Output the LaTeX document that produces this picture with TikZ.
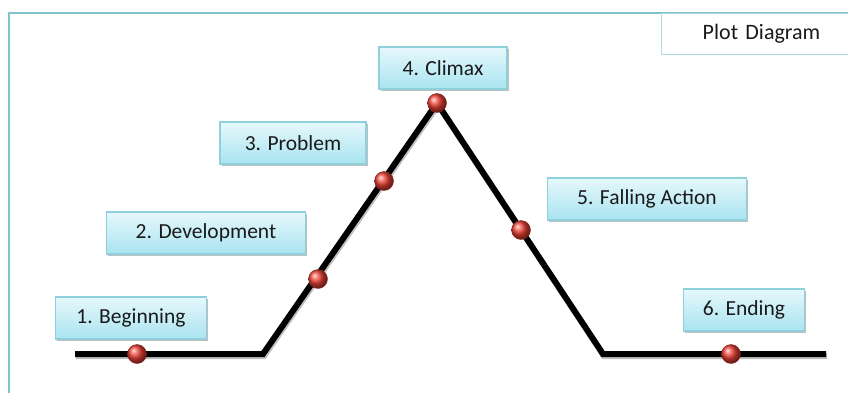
\documentclass[tikz,border=0pt]{standalone}
\usepackage{fontspec}
\setmainfont{Carlito}
\usetikzlibrary{shadows}
\definecolor{frameteal}{HTML}{7FC3CC}
\definecolor{boxedge}{HTML}{8FD0DD}
\definecolor{boxtop}{HTML}{E6F8FC}
\definecolor{boxbot}{HTML}{A9E3F0}
\definecolor{txt}{HTML}{1A1A1A}
\definecolor{dotred}{HTML}{EE4236}
\tikzset{
  stagebox/.style={draw=boxedge, line width=1.2pt, top color=boxtop, bottom color=boxbot,
    minimum height=42pt, inner xsep=10pt, font=\fontsize{21.5}{24}\selectfont, text=txt,
    drop shadow={shadow xshift=1.5pt, shadow yshift=-2pt, opacity=0.25, fill=black}},
  plotline/.style={line width=6pt, black, line join=miter},
  dot/.style={circle, minimum size=19pt, inner sep=0pt, ball color=dotred, draw=dotred!55!black, line width=0.4pt}
}
\begin{document}
\begin{tikzpicture}[x=1pt,y=-1pt]
\useasboundingbox (0,0) rectangle (848,392);
\fill[white] (0,0) rectangle (848,392);
% outer frame (open to the right and bottom)
\draw[frameteal, line width=2.5pt] (9,400) -- (9,13) -- (860,13);
% title box
\node[draw=frameteal!60, line width=1pt, fill=white, anchor=north west,
  minimum width=200pt, minimum height=41pt, font=\fontsize{22}{25}\selectfont, text=txt,
  text width=200pt, align=center, inner xsep=0pt] (title) at (661,13) {Plot Diagram};
% line
\coordinate (s) at (75,354);
\coordinate (a) at (263,354);
\coordinate (p) at (437,103);
\coordinate (b) at (603,354);
\coordinate (e) at (826,354);
\draw[line width=6pt, black!25, line join=miter, transform canvas={xshift=1pt,yshift=-2pt}] (s) -- (a) -- (p) -- (b) -- (e);
\draw[plotline] (s) -- (a) -- (p) -- (b) -- (e);
% boxes
\node[stagebox, minimum width=151pt] (n1) at (131,318) {1. Beginning};
\node[stagebox, minimum width=199pt] (n2) at (206,233) {2. Development};
\node[stagebox, minimum width=146pt] (n3) at (293,143) {3. Problem};
\node[stagebox, minimum width=128pt] (n4) at (443,68) {4. Climax};
\node[stagebox, minimum width=199pt] (n5) at (647,199) {5. Falling Action};
\node[stagebox, minimum width=121pt] (n6) at (744,310) {6. Ending};
% dots
\node[dot] (d1) at (137,354) {};
\node[dot] (d2) at (318,279) {};
\node[dot] (d3) at (384,181) {};
\node[dot] (d4) at (437,103) {};
\node[dot] (d5) at (521,230) {};
\node[dot] (d6) at (731,354) {};
\end{tikzpicture}
\end{document}
